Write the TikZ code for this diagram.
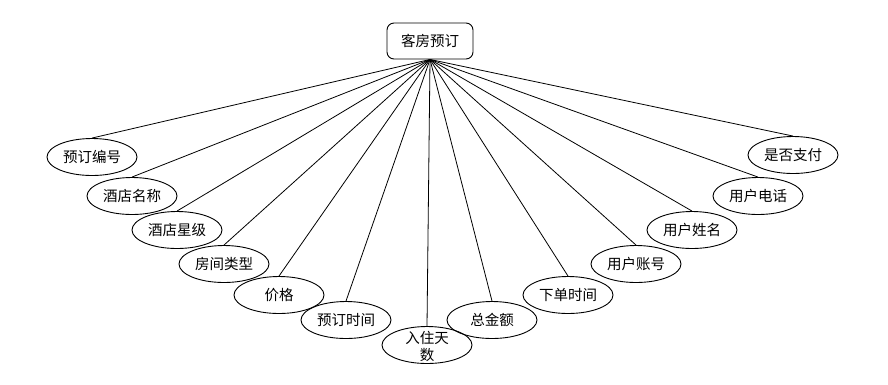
\documentclass[tikz,border=0pt]{standalone}
\usepackage{fontspec}
\newfontfamily\cjk{Noto Sans CJK SC}
\usetikzlibrary{shapes.geometric}
\begin{document}
\begin{tikzpicture}[x=1pt,y=-1pt,
  txt/.style={font=\cjk\fontsize{14.5}{17}\selectfont},
  attr/.style={draw, ellipse, line width=0.9pt, minimum width=90pt, minimum height=37pt, inner sep=0pt, txt},
  root/.style={draw, rounded corners=7pt, line width=0.9pt, minimum width=86pt, minimum height=36pt, inner sep=0pt, txt},
  link/.style={line width=0.8pt}]
\useasboundingbox (0,0) rectangle (888,384);
\node[root] (top) at (430,41) {客房预订};
\node[attr] (a1) at (92,157) {预订编号};
\node[attr] (a2) at (132,196) {酒店名称};
\node[attr] (a3) at (177,230) {酒店星级};
\node[attr] (a4) at (224,264) {房间类型};
\node[attr] (a5) at (279,295) {价格};
\node[attr] (a6) at (346,320) {预订时间};
\node[attr] (a7) at (427,345) {};
\node[txt, align=center, inner sep=0pt] (a7t) at (427,346) {入住天\\数};
\node[attr] (a8) at (492,320) {总金额};
\node[attr] (a9) at (568,295) {下单时间};
\node[attr] (a10) at (636,264) {用户账号};
\node[attr] (a11) at (692,230) {用户姓名};
\node[attr] (a12) at (758,196) {用户电话};
\node[attr] (a13) at (793,155) {是否支付};
\foreach \i in {1,...,13}{\draw[link] (top.south) -- (a\i.north);}
\end{tikzpicture}
\end{document}
